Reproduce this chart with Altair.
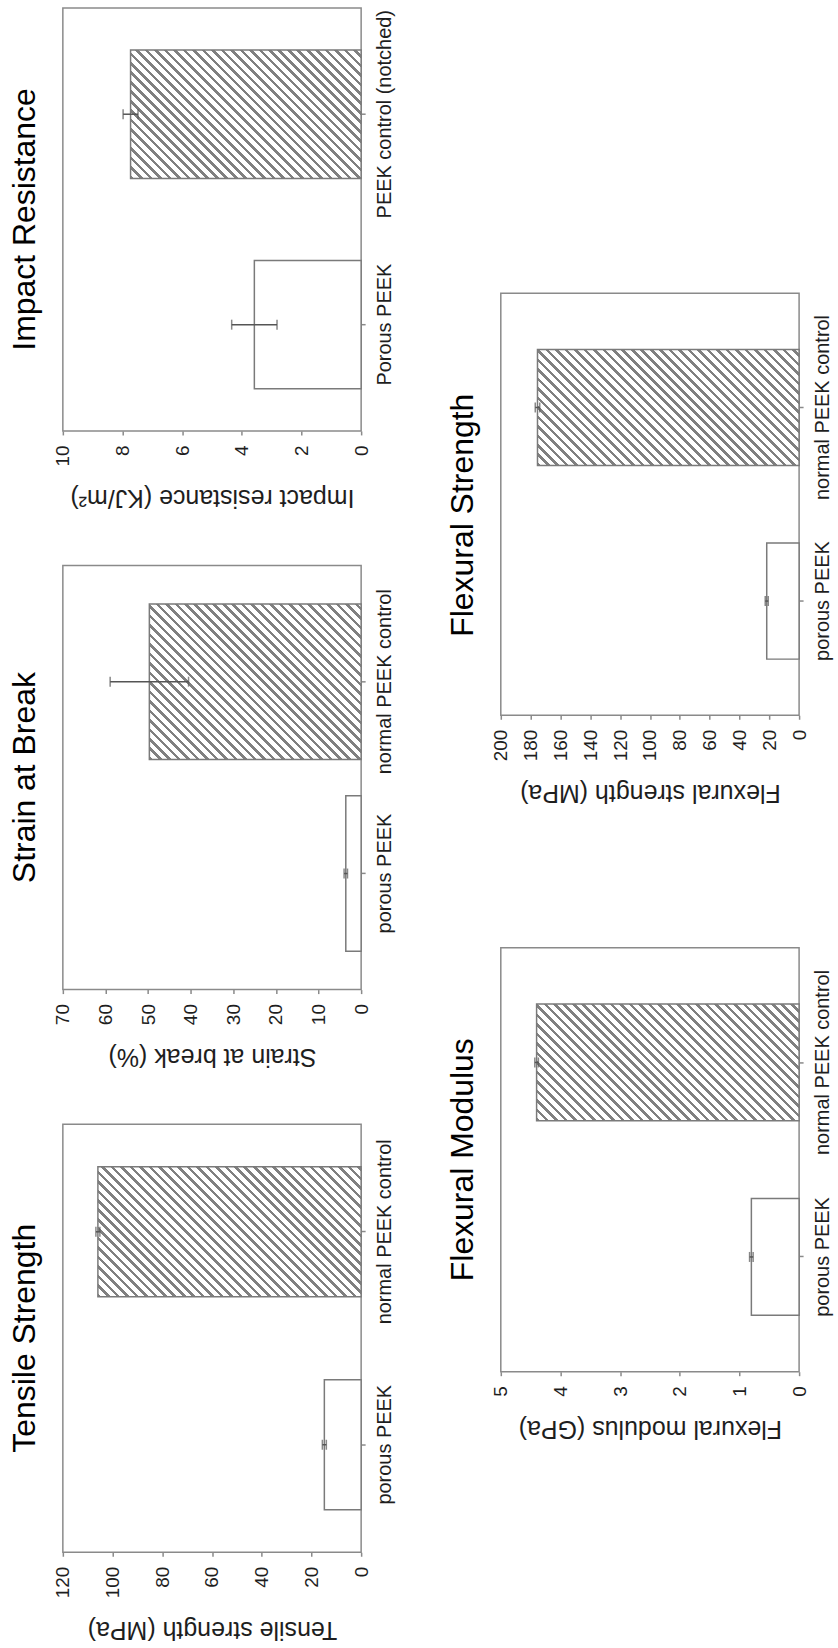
import altair as alt
import pandas as pd

FONT = "Liberation Sans"
FRAME = "#8a8a8a"
BAR_EDGE = "#7a7a7a"
HATCH = "#808080"
ERR = "#555555"
TXT = "#1e1e1e"

# ---------------- data ----------------
impact_cats = ["PEEK control (notched)", "Porous PEEK"]
impact_vals = [7.73, 3.58]
impact_errs = [0.25, 0.76]
impact_ticks = [0, 2, 4, 6, 8, 10]

strain_cats = ["normal PEEK control", "porous PEEK"]
strain_vals = [49.7, 3.6]
strain_errs = [9.2, 0.4]
strain_ticks = [0, 10, 20, 30, 40, 50, 60, 70]

tensile_cats = ["normal PEEK control", "porous PEEK"]
tensile_vals = [105.9, 14.8]
tensile_errs = [0.8, 0.8]
tensile_ticks = [0, 20, 40, 60, 80, 100, 120]

flexstr_cats = ["normal PEEK control", "porous PEEK"]
flexstr_vals = [175.4, 21.7]
flexstr_errs = [1.5, 1.0]
flexstr_ticks = [0, 20, 40, 60, 80, 100, 120, 140, 160, 180, 200]

flexmod_cats = ["normal PEEK control", "porous PEEK"]
flexmod_vals = [4.40, 0.80]
flexmod_errs = [0.03, 0.03]
flexmod_ticks = [0, 1, 2, 3, 4, 5]

kinds = ["control", "porous"]


def hatch_fill(w, h, spacing=9.5, frac=0.38):
    """Diagonal '\\' stripes drawn as a hard-stop linear gradient."""
    r = h / w
    k = (1 + r) / (1 + r * r)
    total = w + h
    dt = spacing / total
    stops = []
    i = 0
    while i * dt < 1:
        a = i * dt
        b = min(a + dt * frac, 1.0)
        c = min(a + dt, 1.0)
        stops += [
            alt.GradientStop(color=HATCH, offset=a),
            alt.GradientStop(color=HATCH, offset=b),
            alt.GradientStop(color="white", offset=b),
            alt.GradientStop(color="white", offset=c),
        ]
        i += 1
    return alt.LinearGradient(gradient="linear", stops=stops,
                              x1=0, y1=1, x2=k, y2=1 - k * r)


def panel(title, axis_title, cats, vals, errs, ticks, width, height, pin, pout,
          title_dx=0):
    df = pd.DataFrame({
        "cat": cats,
        "value": vals,
        "lo": [v - e for v, e in zip(vals, errs)],
        "hi": [v + e for v, e in zip(vals, errs)],
        "kind": kinds,
    })
    dmax = ticks[-1]
    xs = alt.Scale(domain=[0, dmax], reverse=True, nice=False, zero=True)
    xaxis = alt.Axis(values=ticks, orient="bottom", title=axis_title,
                     labelAngle=270, labelAlign="right", labelBaseline="middle",
                     labelPadding=10, labelOverlap=False, labelFontSize=19,
                     titleAngle=180, titleBaseline="bottom", titlePadding=19,
                     titleFontSize=25)
    yaxis = alt.Axis(orient="right", title=None, labelAngle=270,
                     labelAlign="center", labelBaseline="top",
                     labelPadding=9, labelLimit=0, labelFontSize=20)
    y = alt.Y("cat:N", sort=cats,
              scale=alt.Scale(paddingInner=pin, paddingOuter=pout), axis=yaxis)

    step = height / (len(cats) - pin + 2 * pout)
    bw = step * (1 - pin)
    wpx = vals[0] / dmax * width

    base = alt.Chart(df)
    hatched = base.transform_filter("datum.kind == 'control'").mark_bar(
        fill=hatch_fill(wpx, bw), stroke=BAR_EDGE, strokeWidth=1.5
    ).encode(x=alt.X("value:Q", scale=xs, axis=xaxis), y=y)
    plain = base.transform_filter("datum.kind == 'porous'").mark_bar(
        fill="white", stroke=BAR_EDGE, strokeWidth=1.5
    ).encode(x=alt.X("value:Q", scale=xs, axis=xaxis), y=y)
    rule = base.mark_rule(color=ERR, strokeWidth=1.5).encode(
        x=alt.X("lo:Q", scale=xs, axis=xaxis), x2="hi:Q", y=y)
    cap_lo = base.mark_tick(color=ERR, thickness=1.5, size=10).encode(
        x=alt.X("lo:Q", scale=xs, axis=xaxis), y=y)
    cap_hi = base.mark_tick(color=ERR, thickness=1.5, size=10).encode(
        x=alt.X("hi:Q", scale=xs, axis=xaxis), y=y)

    return alt.layer(plain, hatched, rule, cap_lo, cap_hi).properties(
        width=width, height=height,
        title=alt.TitleParams(title, orient="left", anchor="middle",
                              frame="group", fontSize=32, fontWeight="normal",
                              font=FONT, color="#000000", offset=12,
                              dx=title_dx),
    )


W = 299
A = panel("Impact Resistance", "Impact resistance (KJ/m²)", impact_cats,
          impact_vals, impact_errs, impact_ticks, W, 424, 0.39, 0.2)
B = panel("Strain at Break", "Strain at break (%)", strain_cats,
          strain_vals, strain_errs, strain_ticks, W, 425, 0.19, 0.2)
C = panel("Tensile Strength", "Tensile strength (MPa)", tensile_cats,
          tensile_vals, tensile_errs, tensile_ticks, W, 429, 0.39, 0.2)
D = panel("Flexural Strength", "Flexural strength (MPa)", flexstr_cats,
          flexstr_vals, flexstr_errs, flexstr_ticks, W, 423, 0.4, 0.29,
          title_dx=-11)
E = panel("Flexural Modulus", "Flexural modulus (GPa)", flexmod_cats,
          flexmod_vals, flexmod_errs, flexmod_ticks, W, 425, 0.4, 0.29)

spacer = alt.Chart(pd.DataFrame({"s": [0]})).mark_point(opacity=0).encode(
    x=alt.X("s:Q", axis=None), y=alt.Y("s:Q", axis=None)
).properties(width=W, height=53, view=alt.ViewBackground(stroke=None))

left = alt.vconcat(A, B, C, spacing=135, bounds="flush")
right = alt.vconcat(spacer, D, E, spacing=233, bounds="flush")

chart = alt.hconcat(left, right, spacing=51).configure(
    padding={"left": 8, "top": 5, "right": 5, "bottom": 5},
    background="white", font=FONT
).configure_view(
    stroke=FRAME, strokeWidth=1.5
).configure_axis(
    grid=False, domain=False, tickColor=FRAME, tickWidth=1.5, tickSize=4,
    labelFont=FONT, titleFont=FONT, labelColor=TXT, titleColor=TXT,
    titleFontWeight="normal"
)

chart.save("out.html", embed_options={"renderer": "svg", "actions": False})
